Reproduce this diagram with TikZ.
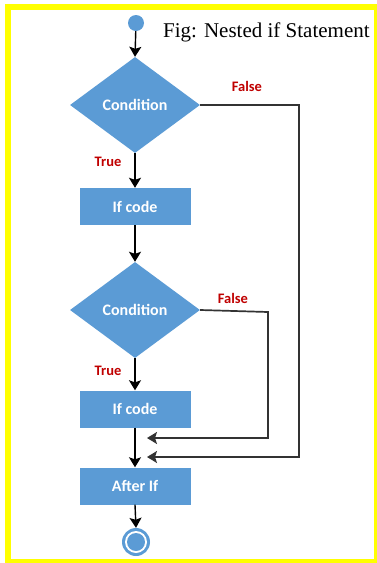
\documentclass[tikz,border=0pt]{standalone}
\usepackage{fontspec}
\setmainfont{Liberation Serif}
\newfontfamily\boxfont{Carlito}
\usetikzlibrary{shapes.geometric,arrows.meta}
\definecolor{flowblue}{HTML}{5B9BD5}
\definecolor{labelred}{HTML}{C00000}
\definecolor{frameyellow}{HTML}{FFFF00}
\tikzset{
  flowbox/.style={fill=flowblue, draw=none, minimum width=111pt, minimum height=37pt,
    inner sep=0pt, text=white, font=\boxfont\bfseries\fontsize{16}{18}\selectfont},
  decision/.style={diamond, fill=flowblue, draw=none, minimum width=130pt, minimum height=96pt,
    inner sep=0pt, aspect=1.35, text=white, font=\boxfont\bfseries\fontsize{16}{18}\selectfont},
  flowarrow/.style={draw=black, line width=1.4pt, -{Stealth[length=10pt,width=12pt,inset=2pt]}},
  backline/.style={draw=black!80, line width=1.7pt, -{Stealth[length=10pt,width=12pt,inset=2pt]}},
  branchlabel/.style={text=labelred, font=\boxfont\bfseries\fontsize{14.5}{16}\selectfont, inner sep=0pt}
}
\begin{document}
\begin{tikzpicture}[x=1pt, y=-1pt]
  % page frame
  \useasboundingbox (0,0) rectangle (377,563);
  \fill[white] (0,0) rectangle (377,563);
  \fill[frameyellow] (5,4) rectangle (377,10);
  \fill[frameyellow] (5,4) rectangle (11,563);
  \fill[frameyellow] (5,559) rectangle (377,563);
  \fill[frameyellow] (374,4) rectangle (377,563);

  % title
  \node[anchor=base west, inner sep=0pt, font=\fontsize{21}{24}\selectfont] (title) at (163,37) {Fig: Nested if Statement};

  % nodes
  \node[circle, fill=flowblue, minimum size=16pt, inner sep=0pt] (start) at (136,23) {};
  \node[decision] (cond1) at (135,105) {Condition};
  \node[flowbox] (code1) at (135,206.5) {If code};
  \node[decision] (cond2) at (135,310) {Condition};
  \node[flowbox] (code2) at (135,409) {If code};
  \node[flowbox] (after) at (135,486) {After If};
  \node[circle, fill=flowblue, minimum size=28pt, inner sep=0pt] (stop) at (136,542) {};
  \node[circle, fill=white, minimum size=22pt, inner sep=0pt] (stopgap) at (stop) {};
  \node[circle, fill=flowblue, minimum size=18pt, inner sep=0pt] (stopcore) at (stop) {};

  % corner and join points
  \coordinate (r1) at (299,105);
  \coordinate (r1b) at (299,457);
  \coordinate (j1) at (147,457);
  \coordinate (r2) at (268,312);
  \coordinate (r2b) at (268,438);
  \coordinate (j2) at (147,438);

  % main flow
  \draw[flowarrow] (start) -- (cond1.north);
  \draw[flowarrow] (cond1.south) -- (code1.north);
  \draw[flowarrow] (code1.south) -- (cond2.north);
  \draw[flowarrow] (cond2.south) -- (code2.north);
  \draw[flowarrow] (code2.south) -- (after.north);
  \draw[flowarrow] (after.south) -- (stop.north);

  % false branches
  \draw[backline] (cond1.east) -- (r1) -- (r1b) -- (j1);
  \draw[backline] (cond2.east) -- (r2) -- (r2b) -- (j2);

  % branch labels
  \node[branchlabel] (f1) at (247,86) {False};
  \node[branchlabel] (t1) at (108,162) {True};
  \node[branchlabel] (f2) at (233,298) {False};
  \node[branchlabel] (t2) at (108,371) {True};
\end{tikzpicture}
\end{document}
